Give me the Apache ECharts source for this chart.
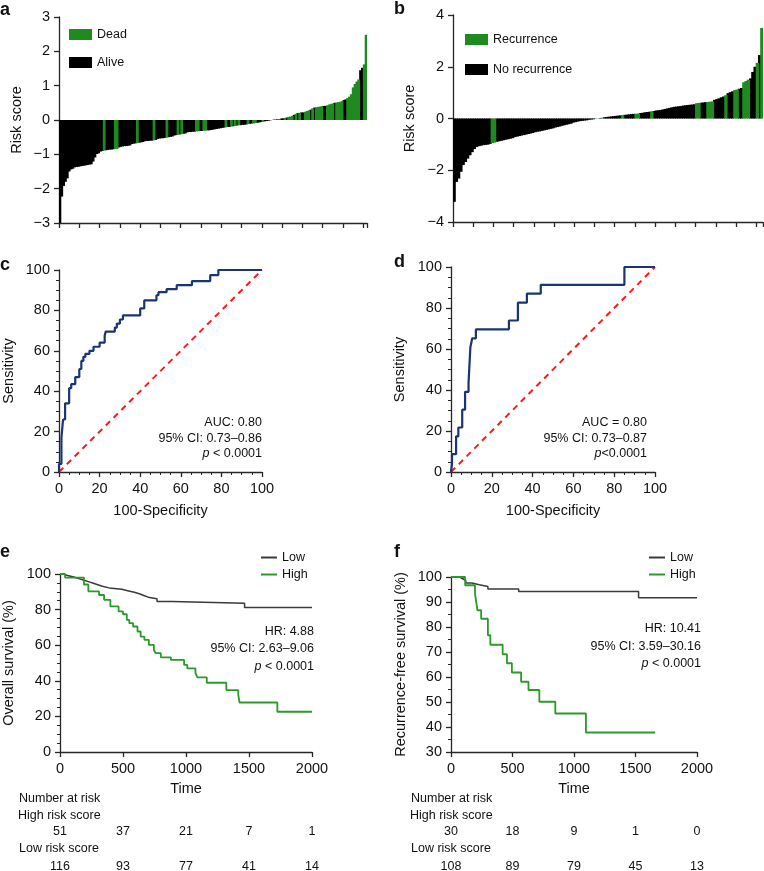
<!DOCTYPE html>
<html><head><meta charset="utf-8">
<script src="https://cdn.jsdelivr.net/npm/echarts@6/dist/echarts.min.js"></script>
<style>html,body{margin:0;padding:0;background:#fff}#c{width:764px;height:871px}</style>
</head><body><div id="c"></div>
<script>
// ---------- DATA ----------
// Panel a: sorted risk scores (overall survival cohort), indices of dead patients
const riskA = [
-3.00,-2.23,-1.92,-1.80,-1.70,-1.50,-1.44,-1.42,-1.38,-1.37,
-1.36,-1.35,-1.34,-1.33,-1.32,-1.31,-1.30,-1.29,-1.21,-1.09,
-0.99,-0.97,-0.92,-0.90,-0.89,-0.88,-0.87,-0.86,-0.86,-0.85,
-0.85,-0.84,-0.80,-0.78,-0.77,-0.76,-0.76,-0.75,-0.74,-0.70,
-0.69,-0.68,-0.67,-0.66,-0.65,-0.64,-0.62,-0.61,-0.61,-0.60,
-0.60,-0.59,-0.58,-0.55,-0.54,-0.53,-0.53,-0.52,-0.51,-0.50,
-0.49,-0.48,-0.45,-0.44,-0.43,-0.42,-0.41,-0.40,-0.39,-0.36,
-0.35,-0.35,-0.34,-0.34,-0.33,-0.33,-0.32,-0.32,-0.31,-0.31,
-0.30,-0.30,-0.29,-0.28,-0.27,-0.26,-0.25,-0.24,-0.23,-0.22,
-0.21,-0.20,-0.20,-0.19,-0.18,-0.17,-0.16,-0.15,-0.15,-0.14,
-0.14,-0.13,-0.12,-0.11,-0.10,-0.10,-0.09,-0.08,-0.07,-0.06,
-0.05,-0.04,-0.03,-0.02,-0.01,0.00,0.01,0.01,0.02,0.03,
0.04,0.05,0.06,0.07,0.09,0.10,0.12,0.15,0.18,0.20,
0.21,0.22,0.22,0.24,0.26,0.28,0.30,0.34,0.36,0.37,
0.38,0.39,0.40,0.41,0.41,0.43,0.45,0.47,0.48,0.50,
0.51,0.52,0.53,0.55,0.58,0.60,0.64,0.68,0.75,0.95,
1.05,1.12,1.18,1.45,1.52,1.62,2.48];
const deadIdxA = [24,30,31,42,51,58,64,66,74,75,78,79,90,93,95,97,102,105,106,110,119,122,124,125,126,128,130,133,134,135,137,139,140,141,142,145,146,147,148,150,151,152,153,156,157,158,159,160,161,162,165,166];

// Panel b: sorted risk scores (recurrence cohort), indices of recurrence patients
const riskB = [
-3.22,-2.45,-2.32,-2.06,-1.80,-1.68,-1.55,-1.42,-1.30,-1.18,
-1.10,-1.07,-1.05,-1.03,-1.02,-1.01,-0.98,-0.95,-0.93,-0.90,
-0.88,-0.86,-0.84,-0.82,-0.80,-0.78,-0.76,-0.72,-0.70,-0.68,
-0.66,-0.64,-0.62,-0.60,-0.58,-0.56,-0.53,-0.51,-0.50,-0.48,
-0.46,-0.44,-0.42,-0.40,-0.38,-0.35,-0.33,-0.31,-0.28,-0.26,
-0.24,-0.22,-0.20,-0.16,-0.14,-0.12,-0.10,-0.09,-0.08,-0.07,
-0.05,-0.04,-0.03,-0.01,0.00,0.02,0.03,0.05,0.06,0.07,
0.08,0.09,0.10,0.11,0.12,0.13,0.14,0.15,0.16,0.17,
0.18,0.18,0.19,0.21,0.22,0.24,0.25,0.26,0.28,0.29,
0.31,0.32,0.33,0.35,0.37,0.39,0.41,0.43,0.45,0.46,
0.47,0.48,0.50,0.51,0.52,0.53,0.54,0.55,0.59,0.60,
0.61,0.62,0.63,0.64,0.65,0.66,0.72,0.75,0.78,0.82,
0.85,0.90,0.98,1.02,1.05,1.10,1.12,1.15,1.18,1.40,
1.45,1.50,1.55,1.80,2.00,2.15,2.45,3.50];
const recurIdxB = [17,18,66,75,81,82,88,108,109,113,114,115,121,125,126,129,130,131,135,137];

// Panel c / d: ROC curves [100-specificity, sensitivity]
const rocC = [[0,0],[0,4],[1.2,4],[1.2,17],[2,17],[2,26],[3,26],[3,34],[5,34],[5,41.5],[6,41.5],[6,43.5],[8,43.5],[8,47],[10,47],[10,51],[11,51],[11,55],[12,55],[12,57],[13,57],[13,58.5],[15,58.5],[15,60],[17,60],[17,62],[20,62],[20,64],[22.5,64],[22.5,67.5],[23,67.5],[23,69.5],[27.5,69.5],[27.5,71.5],[28.5,71.5],[28.5,73.5],[30,73.5],[30,75.5],[31.5,75.5],[31.5,77.5],[40,77.5],[40,81],[42,81],[42,85],[48,85],[48,87.5],[49,87.5],[49,89],[53,89],[53,90.5],[58,90.5],[58,92.5],[65.5,92.5],[65.5,94.5],[74.5,94.5],[74.5,97.5],[78.5,97.5],[78.5,100],[100,100]];
const rocD = [[0,0],[0.5,4.3],[0.5,8.7],[2.5,8.7],[2.5,17.4],[3.6,17.4],[3.6,21.7],[5.5,21.7],[5.5,30.4],[6.9,30.4],[6.9,39.1],[8.6,39.1],[8.6,43.5],[9.5,43.5],[9.5,60.9],[10.4,60.9],[10.4,65.2],[12.2,65.2],[12.2,69.6],[28.4,69.6],[28.4,73.9],[32.8,73.9],[32.8,82.6],[37.2,82.6],[37.2,87],[44,87],[44,91.3],[85,91.3],[85,100],[100,100]];
const diagonal = [[0,0],[100,100]];

// Panel e / f: Kaplan-Meier curves [time, survival %]
const kmLowE = [[0,100],[30,99.1],[60,98.3],[110,97.4],[150,96.6],[185,95.7],[225,94.8],[265,94.0],[300,93.1],[335,92.2],[390,91.4],[490,90.5],[545,89.7],[590,88.8],[635,87.9],[665,87.0],[700,86.1],[770,84.6],[890,83.6],[1465,81.2],[2000,81.2]];
const kmHighE = [[0,100],[40,98.0],[190,94.1],[225,90.2],[310,88.2],[350,85.5],[400,81.8],[465,79.0],[500,77.4],[530,74.2],[550,72.4],[580,70.5],[615,67.7],[640,64.8],[670,63.0],[705,60.2],[745,57.3],[760,55.5],[800,53.2],[880,51.7],[985,48.9],[1010,47.0],[1075,44.5],[1090,41.9],[1165,38.9],[1320,34.8],[1415,32.0],[1425,27.8],[1725,22.6],[2000,22.6]];
const kmLowF = [[0,100],[70,99.3],[95,98.6],[120,97.6],[170,96.9],[230,96.2],[300,95.2],[550,94.2],[1525,91.7],[2000,91.7]];
const kmHighF = [[0,100],[115,96.7],[195,93.3],[205,90.0],[215,86.7],[245,83.3],[300,76.7],[320,72.9],[420,69.1],[455,65.5],[495,61.8],[570,58.1],[630,54.8],[718,50.1],[848,45.4],[1097,37.8],[1660,37.8]];

// Number at risk
const riskTimes = [0,500,1000,1500,2000];
const atRiskHighE = [51,37,21,7,1];
const atRiskLowE = [116,93,77,41,14];
const atRiskHighF = [30,18,9,1,0];
const atRiskLowF = [108,89,79,45,13];

// ---------- STYLE ----------
const FONT = '"Liberation Sans", Arial, Helvetica, sans-serif';
const GREEN = '#1f8a1f';
const BLACK = '#000000';
const AXC = '#262626';
const NAVY = '#1a3474';
const RED = '#ff1a1a';
const LOWC = '#3a3a3a';
const HIGHC = '#2a9a2a';

const chart = echarts.init(document.getElementById('c'), null, {renderer: 'canvas'});

function minusFmt(v){ return String(v).replace('-', '\u2212'); }
function axisLine(){ return {show:true, onZero:false, lineStyle:{color:AXC, width:1.3}}; }
function label(extra){ return Object.assign({color:'#111', fontSize:14.5, fontFamily:FONT}, extra||{}); }
const nameStyle = {color:'#111', fontSize:14.5, fontFamily:FONT};

function catAxis(grid, n, every){
  return {type:'category', gridIndex:grid, data:Array.from({length:n},(_, i)=>i+1), boundaryGap:true,
    position:'bottom', axisLine:axisLine(), axisTick:{show:true, interval:every-1, length:5, lineStyle:{color:AXC, width:1.3}},
    axisLabel:{show:false}, splitLine:{show:false}};
}
function valAxis(grid, min, max, interval, extra){
  return Object.assign({type:'value', gridIndex:grid, min, max, interval,
    axisLine:axisLine(), axisTick:{show:true, length:5, lineStyle:{color:AXC, width:1.3}},
    axisLabel:label({margin:9, formatter:minusFmt}), splitLine:{show:false}}, extra||{});
}
function minor(n){ return {minorTick:{show:true, splitNumber:n, length:3, lineStyle:{color:AXC, width:1}}}; }

function splitBars(values, idx, want){
  const s = new Set(idx);
  return values.map((v,i)=> (s.has(i) === want) ? v : '-');
}
function barSeries(name, xi, data, color){
  return {name, type:'bar', xAxisIndex:xi, yAxisIndex:xi, data, barWidth:'150%', barGap:'-100%',
    itemStyle:{color}};
}
const legendText = {color:'#111', fontSize:12.5, fontFamily:FONT};

const option = {
  animation:false,
  backgroundColor:'#fff',
  textStyle:{fontFamily:FONT},
  grid:[
    {left:59, top:17, width:308, height:206},
    {left:453, top:15, width:310, height:207},
    {left:59, top:270, width:203, height:202},
    {left:451, top:267, width:204, height:205},
    {left:59, top:574, width:253, height:178},
    {left:451, top:577, width:246, height:175}
  ],
  xAxis:[
    catAxis(0, riskA.length, 11),
    catAxis(1, riskB.length, 9),
    valAxis(2, 0, 100, 20, Object.assign({name:'100-Specificity', nameLocation:'middle', nameGap:31, nameTextStyle:nameStyle}, minor(4))),
    valAxis(3, 0, 100, 20, Object.assign({name:'100-Specificity', nameLocation:'middle', nameGap:31, nameTextStyle:nameStyle}, minor(4))),
    valAxis(4, 0, 2000, 500, {name:'Time', nameLocation:'middle', nameGap:29, nameTextStyle:nameStyle}),
    valAxis(5, 0, 2000, 500, {name:'Time', nameLocation:'middle', nameGap:29, nameTextStyle:nameStyle})
  ],
  yAxis:[
    valAxis(0, -3, 3, 1, {name:'Risk score', nameLocation:'middle', nameGap:35, nameTextStyle:nameStyle}),
    valAxis(1, -4, 4, 2, {name:'Risk score', nameLocation:'middle', nameGap:36, nameTextStyle:nameStyle}),
    valAxis(2, 0, 100, 20, Object.assign({name:'Sensitivity', nameLocation:'middle', nameGap:43, nameTextStyle:nameStyle}, minor(4))),
    valAxis(3, 0, 100, 20, Object.assign({name:'Sensitivity', nameLocation:'middle', nameGap:44, nameTextStyle:nameStyle}, minor(4))),
    valAxis(4, 0, 100, 20, Object.assign({name:'Overall survival (%)', nameLocation:'middle', nameGap:44, nameTextStyle:nameStyle}, minor(4))),
    valAxis(5, 30, 100, 10, Object.assign({name:'Recurrence-free survival (%)', nameLocation:'middle', nameGap:43, nameTextStyle:nameStyle}, minor(2)))
  ],
  legend:[
    {left:69, top:28, orient:'vertical', itemWidth:23, itemHeight:11, itemGap:15, padding:0, selectedMode:false,
     textStyle:legendText, data:[{name:'Dead', icon:'rect'},{name:'Alive', icon:'rect'}]},
    {left:465, top:33, orient:'vertical', itemWidth:23, itemHeight:11, itemGap:17, padding:0, selectedMode:false,
     textStyle:legendText, data:[{name:'Recurrence', icon:'rect'},{name:'No recurrence', icon:'rect'}]},
    {left:261, top:551, orient:'vertical', itemWidth:16, itemHeight:2, itemGap:4, padding:0, selectedMode:false,
     textStyle:legendText, data:[{name:'Low', icon:'rect'},{name:'High', icon:'rect'}]},
    {left:649, top:551, orient:'vertical', itemWidth:16, itemHeight:2, itemGap:4, padding:0, selectedMode:false,
     textStyle:legendText, data:[{name:'Low', icon:'rect'},{name:'High', icon:'rect'}]}
  ],
  series:[
    barSeries('Alive', 0, splitBars(riskA, deadIdxA, false), BLACK),
    barSeries('Dead', 0, splitBars(riskA, deadIdxA, true), GREEN),
    barSeries('No recurrence', 1, splitBars(riskB, recurIdxB, false), BLACK),
    barSeries('Recurrence', 1, splitBars(riskB, recurIdxB, true), GREEN),
    {name:'diagC', type:'line', xAxisIndex:2, yAxisIndex:2, data:diagonal, symbol:'none', lineStyle:{color:RED, width:2, type:[6,5]}},
    {name:'rocC', type:'line', xAxisIndex:2, yAxisIndex:2, data:rocC, symbol:'none', lineStyle:{color:NAVY, width:2.2}},
    {name:'diagD', type:'line', xAxisIndex:3, yAxisIndex:3, data:diagonal, symbol:'none', lineStyle:{color:RED, width:2, type:[6,5]}},
    {name:'rocD', type:'line', xAxisIndex:3, yAxisIndex:3, data:rocD, symbol:'none', lineStyle:{color:NAVY, width:2.2}},
    {name:'Low', type:'line', xAxisIndex:4, yAxisIndex:4, data:kmLowE, step:'end', symbol:'none', lineStyle:{color:LOWC, width:1.5}, itemStyle:{color:LOWC}},
    {name:'High', type:'line', xAxisIndex:4, yAxisIndex:4, data:kmHighE, step:'end', symbol:'none', lineStyle:{color:HIGHC, width:1.8}, itemStyle:{color:HIGHC}},
    {name:'Low', type:'line', xAxisIndex:5, yAxisIndex:5, data:kmLowF, step:'end', symbol:'none', lineStyle:{color:LOWC, width:1.5}, itemStyle:{color:LOWC}},
    {name:'High', type:'line', xAxisIndex:5, yAxisIndex:5, data:kmHighF, step:'end', symbol:'none', lineStyle:{color:HIGHC, width:1.8}, itemStyle:{color:HIGHC}}
  ]
};
chart.setOption(option);

// ---------- TEXT ----------
function txt(x, y, text, opts){
  opts = opts || {};
  const size = opts.size || 12.5;
  return {type:'text', x, y, silent:true, style:{
    text, fill:'#111', align:opts.align||'left', verticalAlign:'middle',
    font:(opts.bold?'bold ':'') + size + 'px ' + FONT,
    rich:{i:{fontStyle:'italic', fontSize:size, fontFamily:FONT, fill:'#111'}, n:{fontSize:size, fontFamily:FONT, fill:'#111'}}
  }};
}
const g = [];
// panel letters
g.push(txt(0, 10, 'a', {bold:true, size:18}));
g.push(txt(394, 9, 'b', {bold:true, size:18}));
g.push(txt(0, 265, 'c', {bold:true, size:18}));
g.push(txt(394, 262, 'd', {bold:true, size:18}));
g.push(txt(0, 552, 'e', {bold:true, size:18}));
g.push(txt(394, 552, 'f', {bold:true, size:18}));
// ROC annotations
g.push(txt(262, 423, 'AUC: 0.80', {align:'right'}));
g.push(txt(262, 439, '95% CI: 0.73\u20130.86', {align:'right'}));
g.push(txt(262, 454, '{i|p}{n| < 0.0001}', {align:'right'}));
g.push(txt(647, 423, 'AUC = 0.80', {align:'right'}));
g.push(txt(647, 439, '95% CI: 0.73\u20130.87', {align:'right'}));
g.push(txt(647, 454, '{i|p}{n|<0.0001}', {align:'right'}));
// KM annotations
g.push(txt(314, 632, 'HR: 4.88', {align:'right'}));
g.push(txt(314, 649, '95% CI: 2.63\u20139.06', {align:'right'}));
g.push(txt(314, 667, '{i|p}{n| < 0.0001}', {align:'right'}));
g.push(txt(701, 629, 'HR: 10.41', {align:'right'}));
g.push(txt(701, 647, '95% CI: 3.59\u201330.16', {align:'right'}));
g.push(txt(701, 664, '{i|p}{n| < 0.0001}', {align:'right'}));
// Number at risk tables
function atRisk(axisIdx, left, highArr, lowArr){
  g.push(txt(left + 1, 799, 'Number at risk'));
  g.push(txt(left, 816, 'High risk score'));
  g.push(txt(left + 1, 849, 'Low risk score'));
  riskTimes.forEach((t, i) => {
    const px = chart.convertToPixel({xAxisIndex:axisIdx}, t);
    g.push(txt(px, 832, String(highArr[i]), {align:'center'}));
    g.push(txt(px, 867, String(lowArr[i]), {align:'center'}));
  });
}
atRisk(4, 18, atRiskHighE, atRiskLowE);
atRisk(5, 410, atRiskHighF, atRiskLowF);
chart.setOption({graphic:g});
</script></body></html>
